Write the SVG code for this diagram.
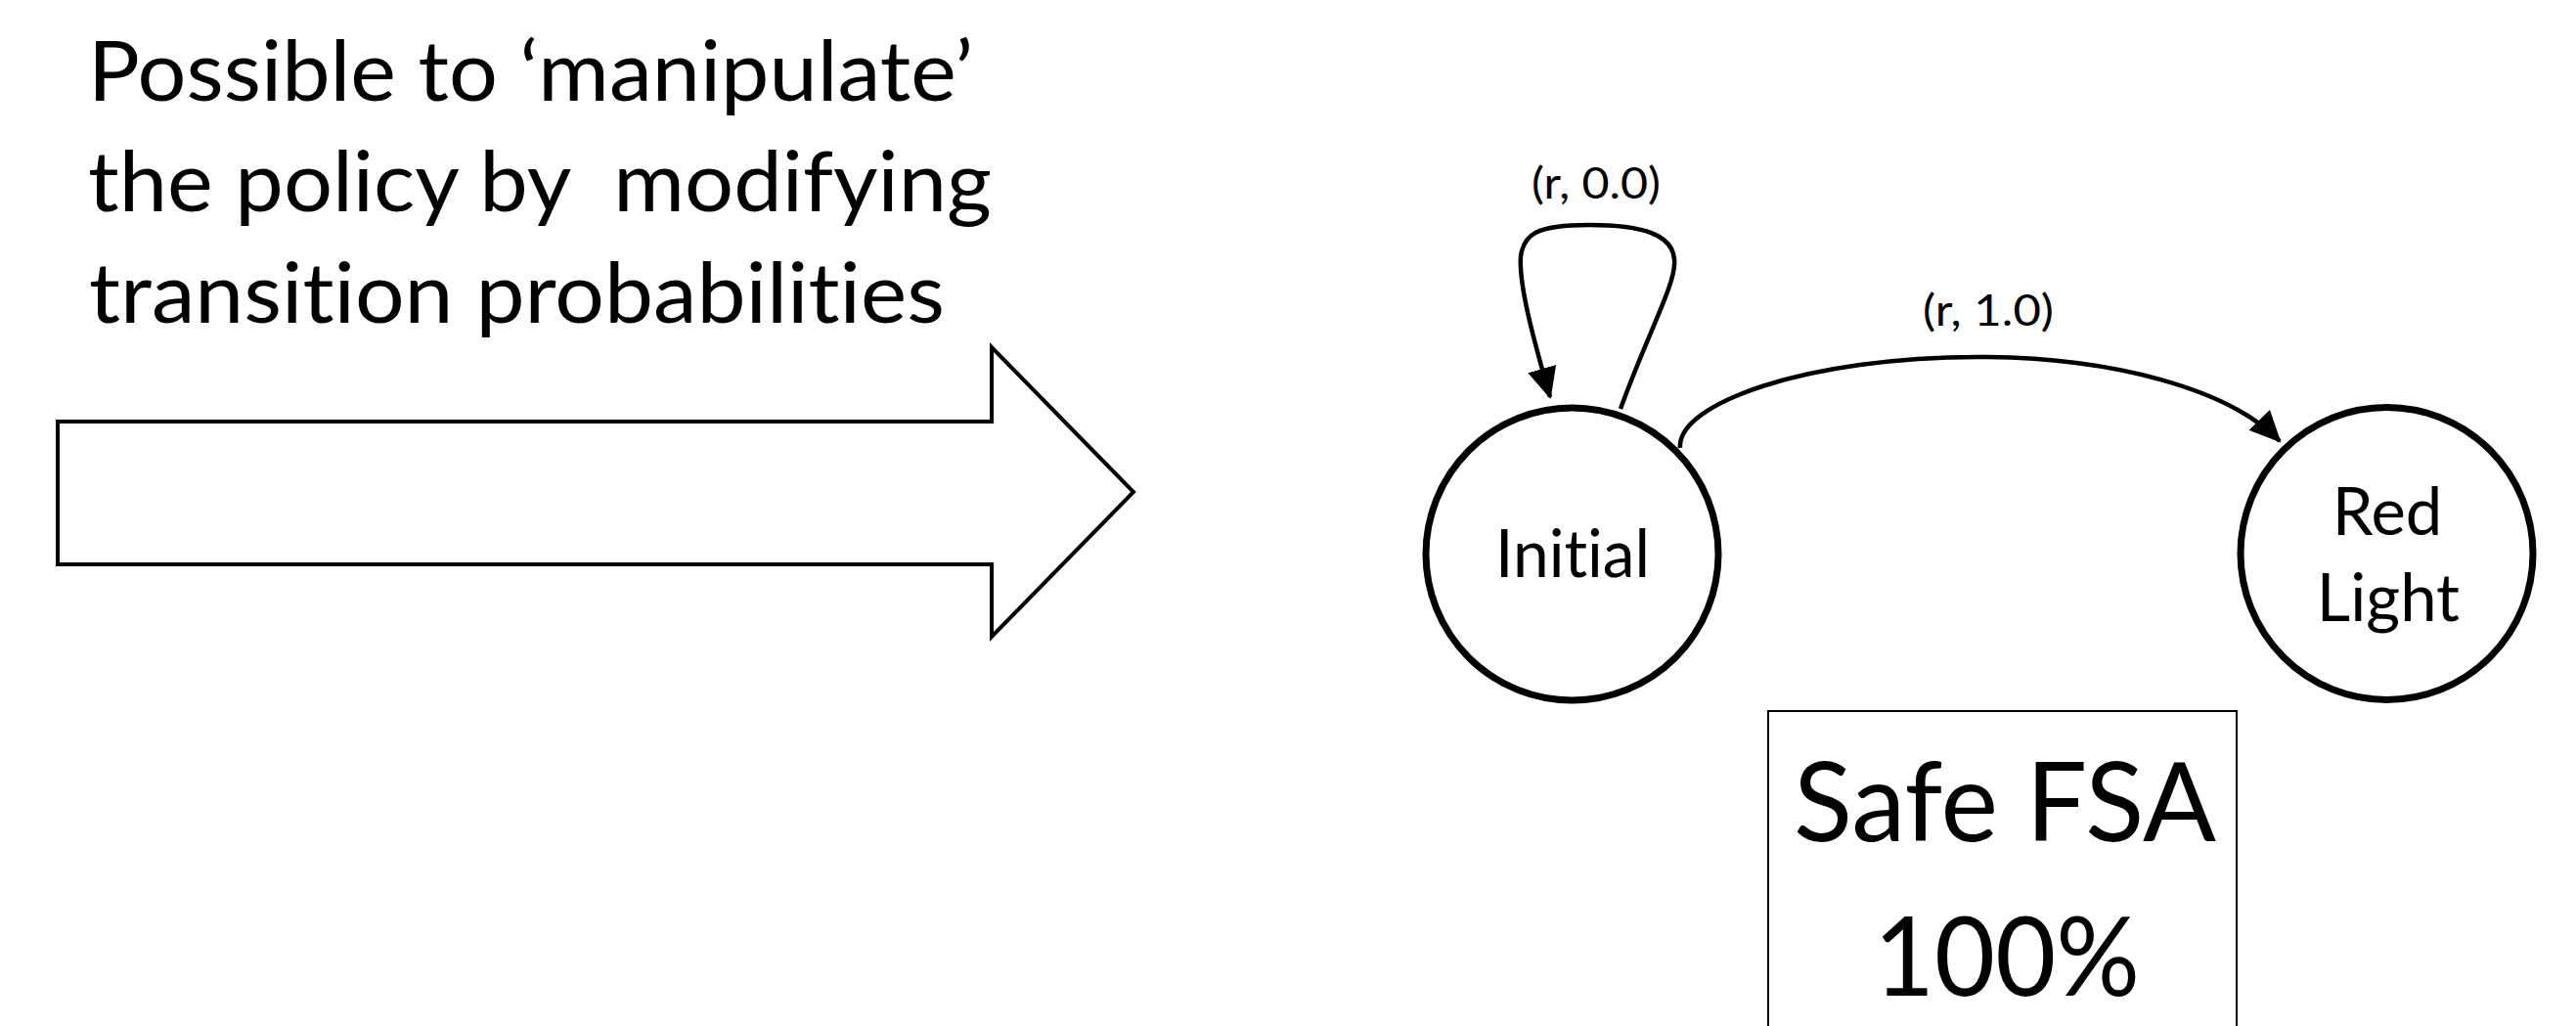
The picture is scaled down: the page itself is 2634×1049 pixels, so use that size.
<svg xmlns="http://www.w3.org/2000/svg" width="2634" height="1049" viewBox="0 0 2634 1049">
<style>
  text { font-family: Lato, "Open Sans", "Liberation Sans", sans-serif; fill: #000; font-variant-ligatures: none; font-feature-settings: "liga" 0, "clig" 0; }
  .big { font-size: 85px; }
  .node { fill: #fff; stroke: #000; stroke-width: 7; }
  .lbl { font-size: 67px; text-anchor: middle; }
  .elbl { font-size: 45px; text-anchor: middle; }
  .edge { fill: none; stroke: #000; stroke-width: 4.5; }
  .fsa { font-size: 113px; text-anchor: middle; }
</style>
<defs>
  <marker id="ah" markerUnits="userSpaceOnUse" markerWidth="34" markerHeight="32" refX="30" refY="15" orient="auto" viewBox="0 0 34 32">
    <path d="M0,0 L32,15 L0,30 z" fill="#000"/>
  </marker>
</defs>
<rect width="2634" height="1049" fill="#fff"/>

<g id="caption">
  <text class="big" x="90" y="103" textLength="905" lengthAdjust="spacingAndGlyphs">Possible to ‘manipulate’</text>
  <text class="big" x="90" y="216" textLength="924" lengthAdjust="spacingAndGlyphs" xml:space="preserve">the policy by  modifying</text>
  <text class="big" x="91" y="330" textLength="875" lengthAdjust="spacingAndGlyphs">transition probabilities</text>
</g>

<g id="block-arrow">
  <polygon points="59,431 1014,431 1014,355 1159,503 1014,651 1014,577 59,577" fill="#fff" stroke="#000" stroke-width="4" stroke-linejoin="miter"/>
</g>

<g id="connectors">
  <path class="edge" d="M1657,418 C1685,340 1715,288 1712,265 C1710,240 1680,230 1625,230 C1570,230 1558,240 1555,262 C1553,290 1566,340 1585,406" marker-end="url(#ah)"/>
  <path class="edge" d="M1718,458 C1714,412 1850,365 2023,365 C2160,365 2280,398 2331,451" marker-end="url(#ah)"/>
  <text class="elbl" x="1632" y="203" textLength="132" lengthAdjust="spacingAndGlyphs">(r, 0.0)</text>
  <text class="elbl" x="2033" y="333" textLength="134" lengthAdjust="spacingAndGlyphs">(r, 1.0)</text>
</g>

<g id="node-initial">
  <circle class="node" cx="1607.5" cy="566.5" r="149.5"/>
  <text class="lbl" x="1608" y="590" textLength="158" lengthAdjust="spacingAndGlyphs">Initial</text>
</g>

<g id="node-redlight">
  <circle class="node" cx="2440.5" cy="566" r="149.5"/>
  <text class="lbl" x="2441" y="547">Red</text>
  <text class="lbl" x="2442" y="635">Light</text>
</g>

<g id="safe-fsa">
  <rect x="1808" y="727" width="479" height="340" fill="#fff" stroke="#000" stroke-width="2"/>
  <text class="fsa" x="2050" y="860" textLength="432" lengthAdjust="spacingAndGlyphs">Safe FSA</text>
  <text class="fsa" x="2052" y="1018" textLength="272" lengthAdjust="spacingAndGlyphs">100%</text>
</g>
</svg>
